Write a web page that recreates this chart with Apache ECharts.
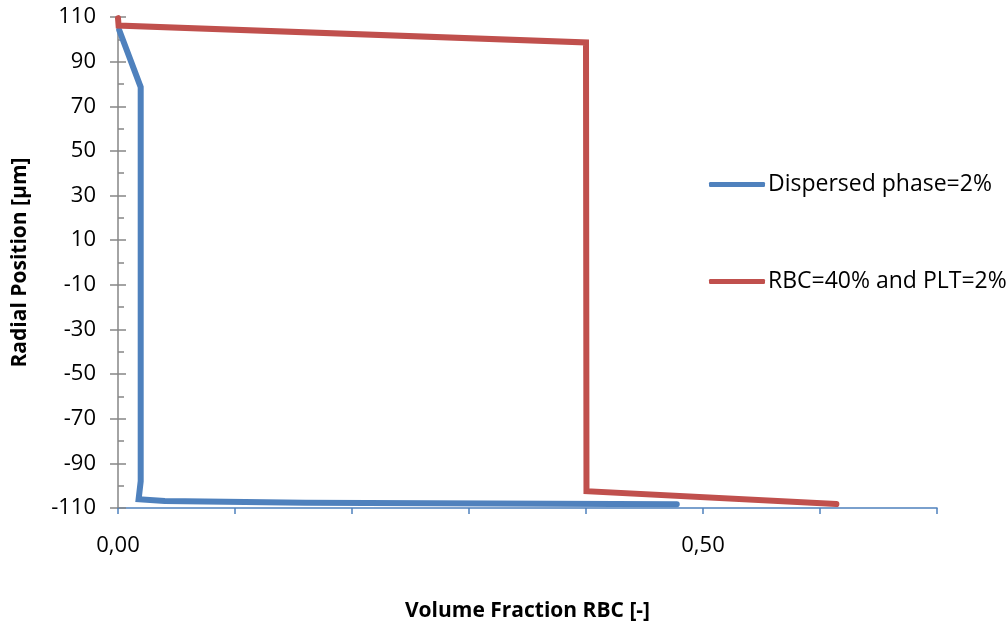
<!DOCTYPE html>
<html>
<head>
<meta charset="utf-8">
<script src="https://cdn.jsdelivr.net/npm/echarts@6/dist/echarts.min.js"></script>
<style>
html,body{margin:0;padding:0;background:#fff;}
#chart{width:1007px;height:630px;}
</style>
</head>
<body>
<div id="chart"></div>
<script>
// Data
const seriesNames = ['Dispersed phase=2%', 'RBC=40% and PLT=2%'];
const dispersedX = [0.001, 0.0194, 0.0194, 0.0176, 0.04, 0.16, 0.4776];
const dispersedY = [104.2, 78.6, -98.0, -106.1, -106.9, -107.6, -108.3];
const rbcX = [0, 0.0005, 0.4, 0.4004, 0.614];
const rbcY = [109.5, 106.2, 98.6, -102.5, -108.2];
const yMajorTicks = [-110, -90, -70, -50, -30, -10, 10, 30, 50, 70, 90, 110];
const yMinorTicks = [-100, -80, -60, -40, -20, 0, 20, 40, 60, 80, 100];
const xLabelTicks = [0, 0.5];

const font = '"Open Sans", "Noto Sans", sans-serif';
const chart = echarts.init(document.getElementById('chart'));
const yBase = { type: 'value', min: -110, max: 110, position: 'left', splitLine: { show: false } };
chart.setOption({
  animation: false,
  backgroundColor: '#fff',
  grid: { left: 118, right: 70, top: 17, bottom: 122, containLabel: false },
  legend: {
    orient: 'vertical',
    left: 704,
    top: 168,
    icon: 'roundRect',
    itemWidth: 56,
    itemHeight: 5,
    itemGap: 74,
    data: seriesNames,
    textStyle: { fontFamily: font, fontSize: 23, color: '#000', padding: [0, 0, 0, -2] }
  },
  xAxis: {
    type: 'value', min: 0, max: 0.7, interval: 0.1,
    name: 'Volume Fraction RBC [-]', nameLocation: 'middle', nameGap: 93,
    nameTextStyle: { fontFamily: font, fontSize: 21, fontWeight: 'bold', color: '#000' },
    axisLine: { show: true, onZero: false, lineStyle: { color: '#4F81BD', width: 1.5 } },
    axisTick: { show: true, length: 6, lineStyle: { color: '#4F81BD', width: 1.5 } },
    axisLabel: {
      customValues: xLabelTicks, margin: 27,
      fontFamily: font, fontSize: 22, color: '#000',
      formatter: v => v.toFixed(2).replace('.', ',')
    },
    splitLine: { show: false }
  },
  yAxis: [
    Object.assign({}, yBase, {
      name: 'Radial Position [µm]', nameLocation: 'middle', nameGap: 87,
      nameTextStyle: { fontFamily: font, fontSize: 21, fontWeight: 'bold', color: '#000' },
      axisLine: { show: true, onZero: false, lineStyle: { color: '#868686', width: 1.5 } },
      axisTick: { show: true, customValues: yMajorTicks, length: 8, lineStyle: { color: '#868686', width: 1.5 } },
      axisLabel: { customValues: yMajorTicks, margin: 22, fontFamily: font, fontSize: 22, color: '#000' }
    }),
    Object.assign({}, yBase, {
      axisLine: { show: false },
      axisTick: { show: true, inside: true, customValues: yMajorTicks, length: 8, lineStyle: { color: '#868686', width: 1.5 } },
      axisLabel: { show: false }
    }),
    Object.assign({}, yBase, {
      axisLine: { show: false },
      axisTick: { show: true, inside: true, customValues: yMinorTicks, length: 6, lineStyle: { color: '#868686', width: 1.5 } },
      axisLabel: { show: false }
    })
  ],
  series: [
    {
      name: seriesNames[0], type: 'line', yAxisIndex: 0, symbol: 'none',
      data: dispersedX.map((x, i) => [x, dispersedY[i]]),
      lineStyle: { color: '#4F81BD', width: 6, cap: 'round', join: 'miter' },
      itemStyle: { color: '#4F81BD' }
    },
    {
      name: seriesNames[1], type: 'line', yAxisIndex: 0, symbol: 'none',
      data: rbcX.map((x, i) => [x, rbcY[i]]),
      lineStyle: { color: '#C0504D', width: 6, cap: 'round', join: 'miter' },
      itemStyle: { color: '#C0504D' }
    }
  ]
});
</script>
</body>
</html>
